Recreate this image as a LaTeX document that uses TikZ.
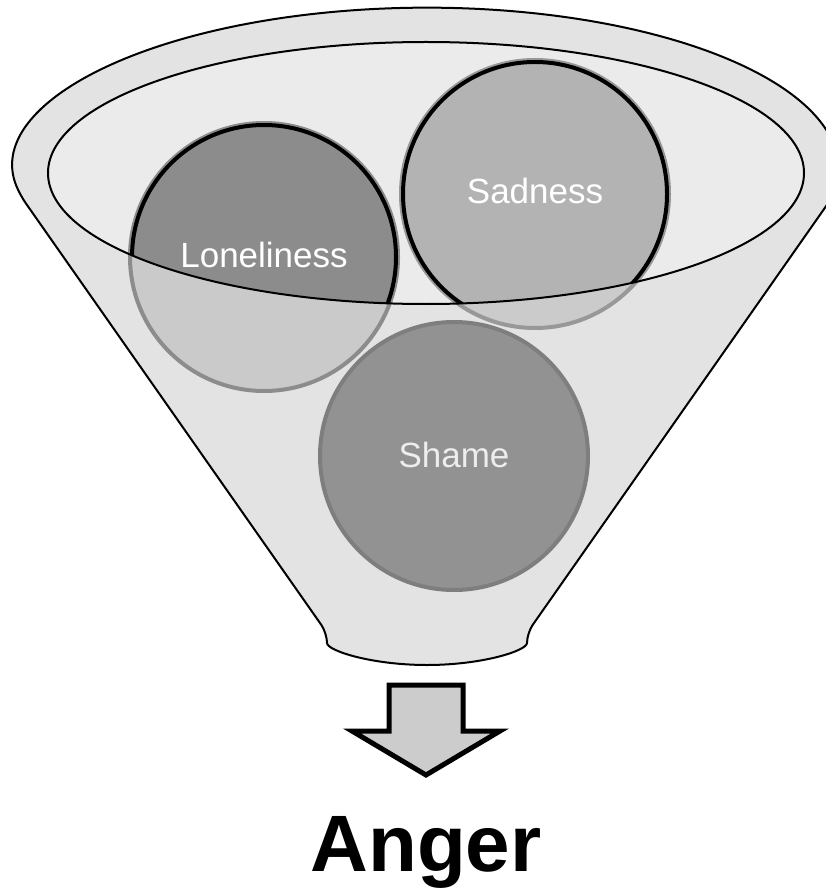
\documentclass[tikz,border=0pt]{standalone}
\usepackage{fontspec}
\setmainfont{Liberation Sans}
\usetikzlibrary{positioning}

\definecolor{rimgray}{HTML}{E3E3E3}
\definecolor{mouthgray}{HTML}{EBEBEB}
\definecolor{darkball}{HTML}{8C8C8C}
\definecolor{lightball}{HTML}{B3B3B3}
\definecolor{arrowgray}{HTML}{CCCCCC}

\tikzset{
  ball/.style={circle, minimum size=268pt, inner sep=0pt, line width=4pt},
  balltext/.style={anchor=base, font=\fontsize{35}{35}\selectfont, text=white},
}

\begin{document}
\begin{tikzpicture}[x=1pt,y=-1pt]
            \useasboundingbox (0,0) rectangle (825,890);
            \def\funnelpath{(20,195) arc[start angle=171,end angle=369,x radius=412,y radius=162]
              [rounded corners=10pt] -- (527,633) arc[start angle=0,end angle=180,x radius=100,y radius=32] -- cycle}
            \def\mouthpath{(426,173) ellipse [x radius=378,y radius=131]}
            \draw [line width=2pt, fill=rimgray]\funnelpath;
            \fill [mouthgray]\mouthpath;
            % balls, the part below the mouth
            \node [ball, fill=lightball!70!white, draw=darkball] (lonely) at (264,257) {};
            \node [ball, fill=lightball!50!rimgray, draw=lightball!85!black] (sad) at (535,194) {};
            \node [ball, fill=darkball!95!white, draw=darkball!90!black] (shame) at (454,456) {};
            % balls, the part inside the mouth
            \begin{scope}
              \clip \mouthpath;
              \draw [line width=4pt, fill=darkball] (lonely.center) circle (132);
              \draw [line width=4pt, fill=lightball] (sad.center) circle (132);
            \end{scope}
            \draw [line width=2pt]\mouthpath;
            \node [balltext] (lonelytxt) at (264,268) {Loneliness};
            \node [balltext] (sadtxt) at (535,204) {Sadness};
            \node [balltext, text=mouthgray!90!white] (shametxt) at (454,467) {Shame};
            \draw [line width=5pt, fill=arrowgray] (389,685) -- (463,685) -- (463,731) -- (500,731)
              -- (426,775) -- (352,731) -- (389,731) -- cycle;
            \node [anchor=base, font=\bfseries\fontsize{80}{80}\selectfont] (anger) at (426,871) {Anger};
        \end{tikzpicture}
\end{document}
